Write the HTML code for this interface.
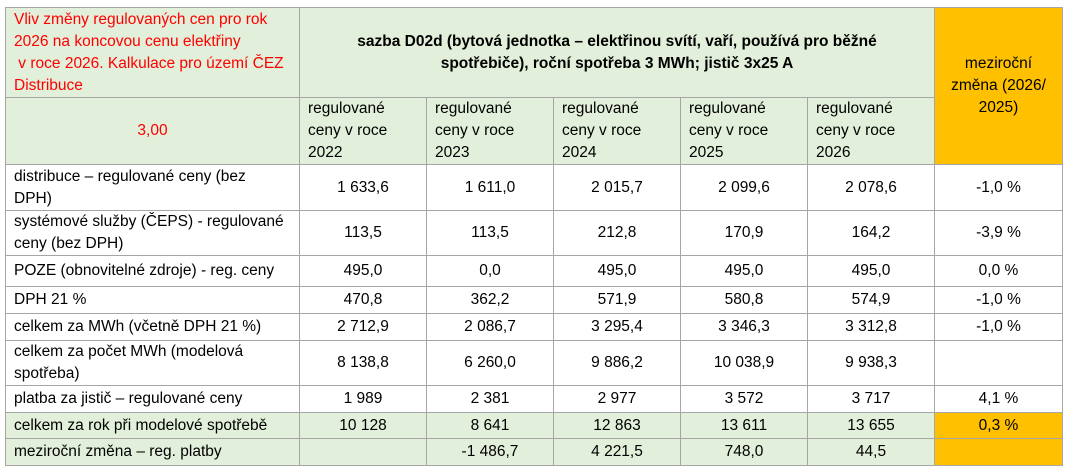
<!DOCTYPE html>
<html><head><meta charset="utf-8"><style>
body{margin:0;background:#fff;width:1066px;height:470px;overflow:hidden}
table{position:absolute;left:5px;top:7px;border-collapse:collapse;table-layout:fixed;font-family:"Liberation Sans",sans-serif;font-size:15.5px;color:#000}
td{border:1px solid #a6a6a6;padding:0 8px;line-height:22px;vertical-align:middle;text-align:center;overflow:hidden;white-space:nowrap}
td.l{text-align:left}
.g{background:#e2efda}
.o{background:#ffc000}
.r{color:#ff0000}
.b{font-weight:bold}
</style></head><body>
<table>
<colgroup><col style="width:294px"><col style="width:127px"><col style="width:127px"><col style="width:127px"><col style="width:127px"><col style="width:127px"><col style="width:128px"></colgroup>
<tr style="height:90px"><td class="g l r" style="vertical-align:top;padding-top:1px">Vliv změny regulovaných cen pro rok<br>2026 na koncovou cenu elektřiny<br>&nbsp;v roce 2026. Kalkulace pro území ČEZ<br>Distribuce</td><td colspan="5" class="g b">sazba D02d (bytová jednotka – elektřinou svítí, vaří, používá pro běžné<br>spotřebiče), roční spotřeba 3 MWh; jistič 3x25 A</td><td rowspan="2" class="o">meziroční<br>změna (2026/<br>2025)</td></tr>
<tr style="height:66px"><td class="g r">3,00</td><td class="g l">regulované<br>ceny v roce<br>2022</td><td class="g l">regulované<br>ceny v roce<br>2023</td><td class="g l">regulované<br>ceny v roce<br>2024</td><td class="g l">regulované<br>ceny v roce<br>2025</td><td class="g l">regulované<br>ceny v roce<br>2026</td></tr>
<tr style="height:46px"><td class="l">distribuce – regulované ceny (bez<br>DPH)</td><td>1 633,6</td><td>1 611,0</td><td>2 015,7</td><td>2 099,6</td><td>2 078,6</td><td>-1,0 %</td></tr>
<tr style="height:45px"><td class="l">systémové služby (ČEPS) - regulované<br>ceny (bez DPH)</td><td>113,5</td><td>113,5</td><td>212,8</td><td>170,9</td><td>164,2</td><td>-3,9 %</td></tr>
<tr style="height:31px"><td class="l">POZE (obnovitelné zdroje) - reg. ceny</td><td>495,0</td><td>0,0</td><td>495,0</td><td>495,0</td><td>495,0</td><td>0,0 %</td></tr>
<tr style="height:27px"><td class="l">DPH 21 %</td><td>470,8</td><td>362,2</td><td>571,9</td><td>580,8</td><td>574,9</td><td>-1,0 %</td></tr>
<tr style="height:27px"><td class="l">celkem za MWh (včetně DPH 21 %)</td><td>2 712,9</td><td>2 086,7</td><td>3 295,4</td><td>3 346,3</td><td>3 312,8</td><td>-1,0 %</td></tr>
<tr style="height:44px"><td class="l">celkem za počet MWh (modelová<br>spotřeba)</td><td>8 138,8</td><td>6 260,0</td><td>9 886,2</td><td>10 038,9</td><td>9 938,3</td><td></td></tr>
<tr style="height:27px"><td class="l">platba za jistič – regulované ceny</td><td>1 989</td><td>2 381</td><td>2 977</td><td>3 572</td><td>3 717</td><td>4,1 %</td></tr>
<tr style="height:26px"><td class="l g">celkem za rok při modelové spotřebě</td><td class="g">10 128</td><td class="g">8 641</td><td class="g">12 863</td><td class="g">13 611</td><td class="g">13 655</td><td class="o">0,3 %</td></tr>
<tr style="height:27px"><td class="l g">meziroční změna – reg. platby</td><td class="g"></td><td class="g">-1 486,7</td><td class="g">4 221,5</td><td class="g">748,0</td><td class="g">44,5</td><td class="o"></td></tr>
</table>
</body></html>
